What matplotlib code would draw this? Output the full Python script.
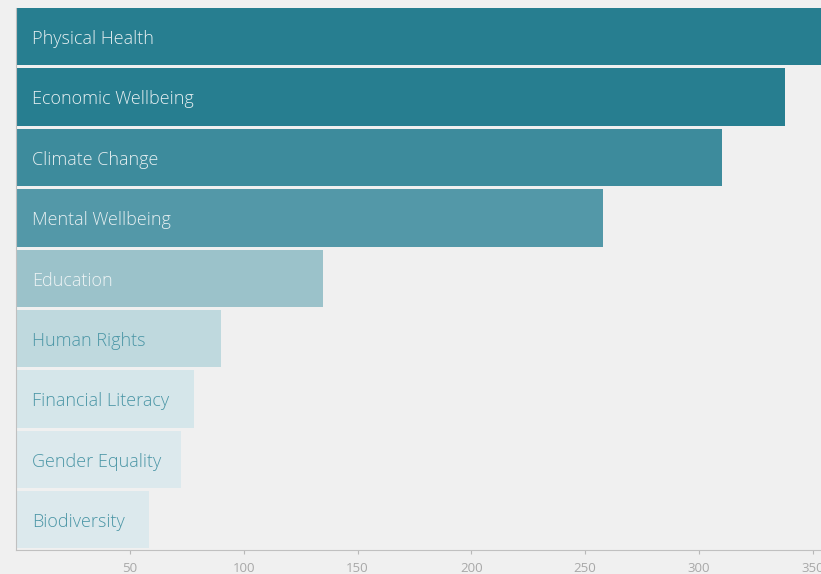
import numpy as np
import matplotlib.pyplot as plt

categories = ['Physical Health', 'Economic Wellbeing', 'Climate Change', 'Mental Wellbeing',
              'Education', 'Human Rights', 'Financial Literacy', 'Gender Equality', 'Biodiversity']
values = [370, 338, 310, 258, 135, 90, 78, 72.5, 58.5]
bar_colors = ['#277e90', '#277e90', '#3d8b9c', '#5398a8', '#9bc2ca',
              '#bfd9de', '#d5e6ea', '#dce9ed', '#dce9ed']
text_colors = ['#e6eff1', '#e6eff1', '#e6eff1', '#e6eff1', '#eef4f5',
               '#4b96a6', '#4b96a6', '#4b96a6', '#4b96a6']
xticks = [50, 100, 150, 200, 250, 300, 350]

bg = '#f0f0f0'
fig = plt.figure(figsize=(8.21, 5.74), dpi=100, facecolor=bg)
ax = fig.add_axes([16.3 / 821, 24 / 574, 1 - 16.3 / 821, (550 - 8) / 574])
ax.set_facecolor(bg)

y = np.arange(len(categories))
ax.barh(y, values, height=0.95, color=bar_colors)
for i, (c, tc) in enumerate(zip(categories, text_colors)):
    ax.text(7, i + 0.04, c, va='center', ha='left', color=tc, fontsize=13,
            family='Open Sans', fontweight='light')

ax.set_xlim(0, 353.7)
ax.set_ylim(8.5, -0.475)
ax.set_yticks([])
ax.set_xticks(xticks)
ax.set_xticklabels([str(t) for t in xticks], color='#a8a8a8', fontsize=9.5,
                   family='Open Sans')
ax.tick_params(axis='x', length=3, color='#b8b8b8', pad=6)
for s in ['top', 'right']:
    ax.spines[s].set_visible(False)
ax.spines['left'].set_color('#c0c0c0')
ax.spines['bottom'].set_color('#c0c0c0')

fig.savefig('out.png', dpi=100, facecolor=bg)
